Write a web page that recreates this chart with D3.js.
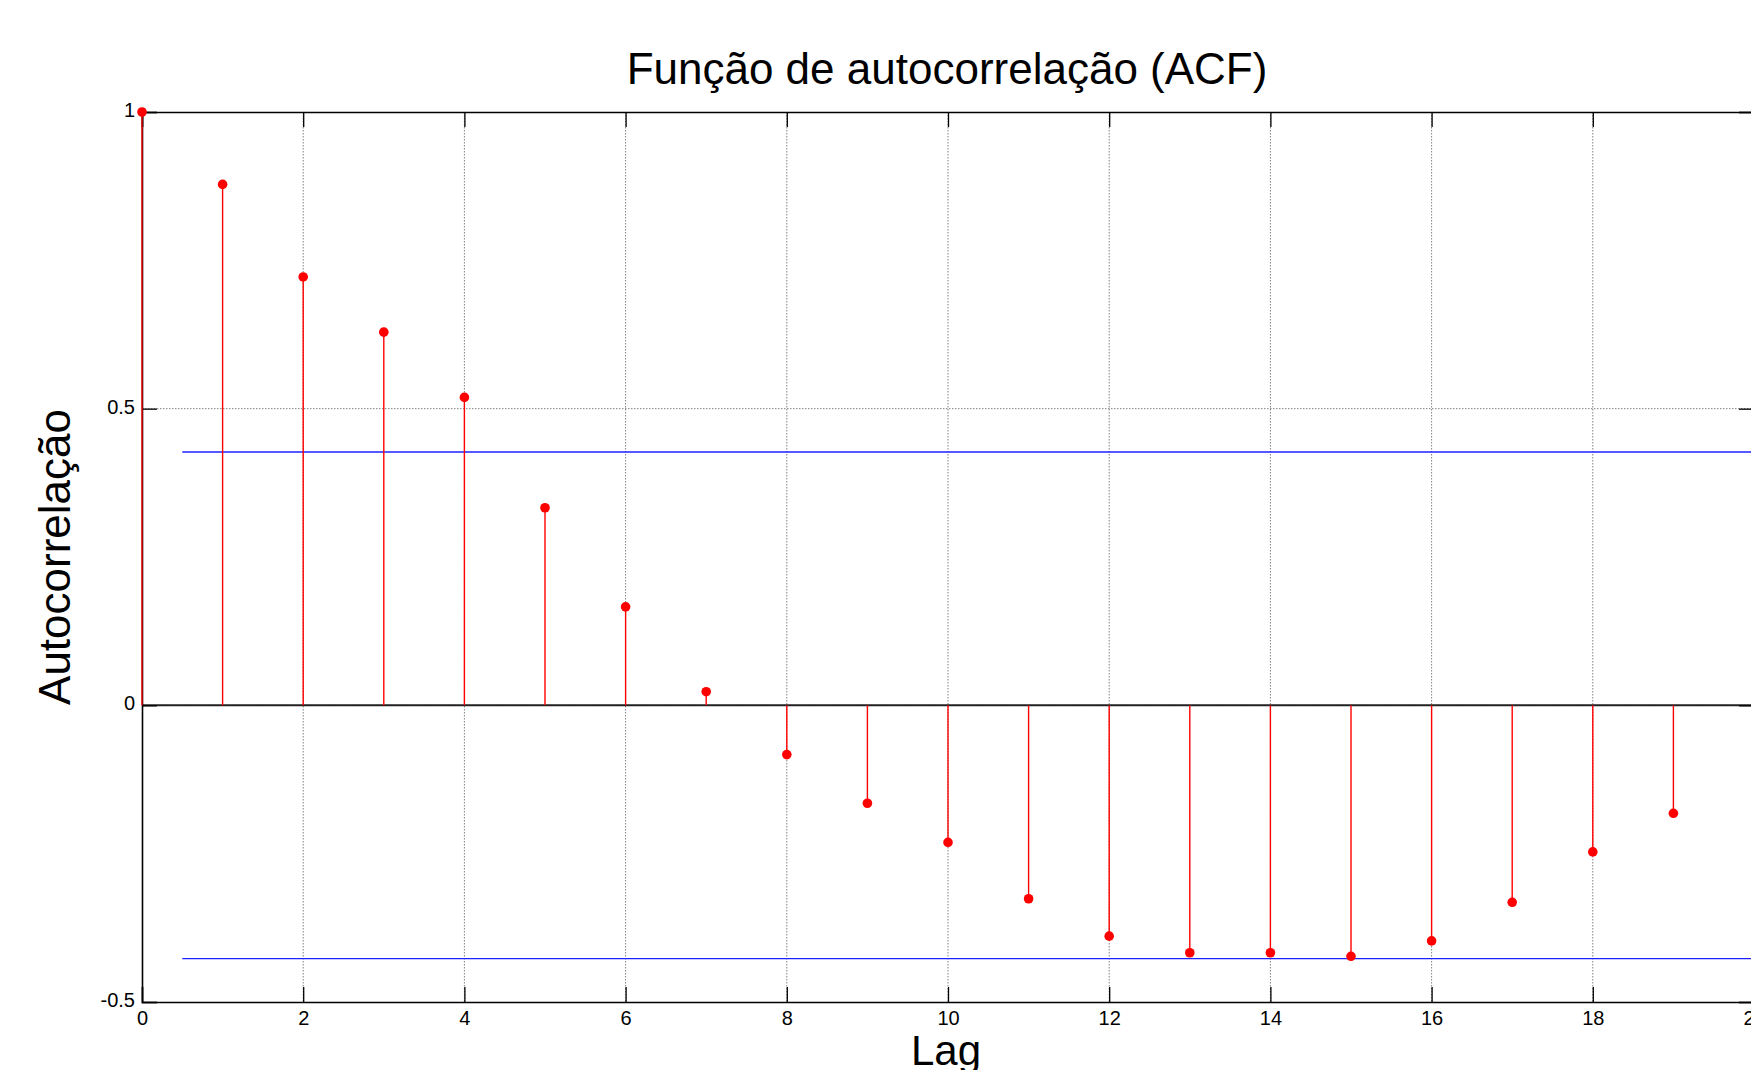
<!DOCTYPE html>
<html>
<head>
<meta charset="utf-8">
<script src="https://cdn.jsdelivr.net/npm/d3@7"></script>
<style>
  html, body { margin: 0; padding: 0; background: #fff; }
  svg { display: block; }
  text { font-family: "Liberation Sans", Arial, Helvetica, sans-serif; fill: #000; }
</style>
</head>
<body>
<svg id="chart" width="1751" height="1070"></svg>
<script>
// ---- data ----
const lags = [0, 1, 2, 3, 4, 5, 6, 7, 8, 9, 10, 11, 12, 13, 14, 15, 16, 17, 18, 19];
const acfValues = [1.0, 0.878, 0.722, 0.629, 0.519, 0.333, 0.166, 0.023, -0.083, -0.165,
                   -0.231, -0.326, -0.389, -0.417, -0.417, -0.423, -0.397, -0.332, -0.247, -0.182];
const confidenceBound = 0.427;
const confidenceLagRange = [0.5, 20];
const xTicks = [0, 2, 4, 6, 8, 10, 12, 14, 16, 18, 20];
const yTicks = [-0.5, 0, 0.5, 1];
const titleText = "Função de autocorrelação (ACF)";
const xLabelText = "Lag";
const yLabelText = "Autocorrelação";

// ---- layout ----
const svg = d3.select("#chart");
const pLeft = 142, pTop = 112, pBottom = 1002, pRight = 1754;
const x = d3.scaleLinear().domain([0, 20]).range([pLeft, pRight]);
const y = d3.scaleLinear().domain([-0.5, 1]).range([pBottom, pTop]);

// grid
const grid = svg.append("g");
grid.selectAll("line.vg").data(xTicks.filter(d => d > 0 && d < 20)).enter().append("line")
  .attr("x1", d => x(d)).attr("x2", d => x(d))
  .attr("y1", pTop).attr("y2", pBottom)
  .attr("stroke", "#808080").attr("stroke-width", 1).attr("stroke-dasharray", "1.5,1.5");
grid.selectAll("line.hg").data(yTicks.filter(d => d > -0.5 && d < 1)).enter().append("line")
  .attr("x1", pLeft).attr("x2", pRight)
  .attr("y1", d => y(d)).attr("y2", d => y(d))
  .attr("stroke", "#808080").attr("stroke-width", 1).attr("stroke-dasharray", "1.5,1.5");

// confidence bounds
svg.selectAll("line.conf").data([confidenceBound, -confidenceBound]).enter().append("line")
  .attr("x1", x(confidenceLagRange[0])).attr("x2", x(confidenceLagRange[1]))
  .attr("y1", d => y(d)).attr("y2", d => y(d))
  .attr("stroke", "#2020ff").attr("stroke-width", 1.3);

// zero baseline
svg.append("line")
  .attr("x1", pLeft).attr("x2", pRight)
  .attr("y1", y(0)).attr("y2", y(0))
  .attr("stroke", "#222").attr("stroke-width", 2);

// axes
const fmt = d => String(d);
const axL = svg.append("g").attr("transform", `translate(${pLeft},0)`)
  .call(d3.axisLeft(y).tickValues(yTicks).tickFormat(fmt).tickSize(-15).tickPadding(7));
const axB = svg.append("g").attr("transform", `translate(0,${pBottom})`)
  .call(d3.axisBottom(x).tickValues(xTicks).tickFormat(fmt).tickSize(-15).tickPadding(9));
const axT = svg.append("g").attr("transform", `translate(0,${pTop})`)
  .call(d3.axisTop(x).tickValues(xTicks).tickFormat("").tickSize(-15));
const axR = svg.append("g").attr("transform", `translate(${pRight},0)`)
  .call(d3.axisRight(y).tickValues(yTicks).tickFormat("").tickSize(-15));
[axL, axB, axT, axR].forEach(g => {
  g.select(".domain").attr("stroke", "#000").attr("stroke-width", 1.6);
  g.selectAll(".tick line").attr("stroke", "#000").attr("stroke-width", 1.3);
  g.selectAll("text").attr("font-size", 20).attr("font-family", "Liberation Sans, Arial, sans-serif").attr("fill", "#000");
});
axL.selectAll("text").attr("dy", "0.22em");

// stems
svg.selectAll("line.stem").data(lags).enter().append("line")
  .attr("x1", d => x(d)).attr("x2", d => x(d))
  .attr("y1", y(0)).attr("y2", (d, i) => y(acfValues[i]))
  .attr("stroke", "#ff0000").attr("stroke-width", 1.4);
svg.selectAll("circle.mk").data(lags).enter().append("circle")
  .attr("cx", d => x(d)).attr("cy", (d, i) => y(acfValues[i]))
  .attr("r", 4.8).attr("fill", "#ff0000");

// labels
svg.append("text").attr("x", 947).attr("y", 84).attr("text-anchor", "middle")
  .attr("font-size", 44).text(titleText);
svg.append("text").attr("x", 946).attr("y", 1065).attr("text-anchor", "middle")
  .attr("font-size", 42).text(xLabelText);
svg.append("text").attr("transform", `translate(70,${(pTop + pBottom) / 2}) rotate(-90)`)
  .attr("text-anchor", "middle").attr("font-size", 44).text(yLabelText);
</script>
</body>
</html>
